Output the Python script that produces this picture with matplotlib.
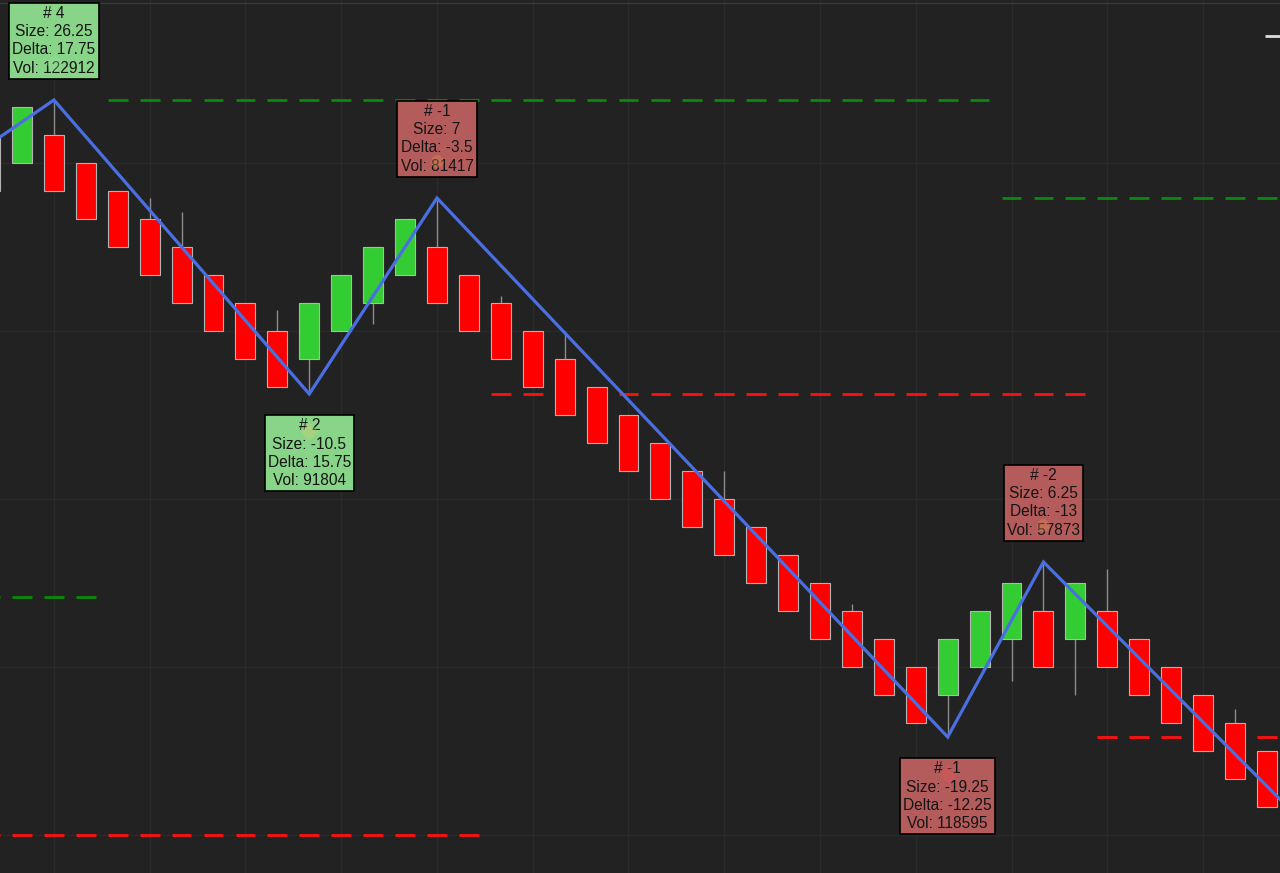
import matplotlib.pyplot as plt
import matplotlib.transforms as mtransforms
import numpy as np

# renko bars: open / close / high / low (bar index -1 .. 39)
bar_idx = list(range(-1, 40))
opens = [4527, 4528, 4529, 4528, 4527, 4526, 4525, 4524, 4523, 4522, 4521,
         4522, 4523, 4524, 4525, 4524, 4523, 4522, 4521, 4520, 4519,
         4518, 4517, 4516, 4515, 4514, 4513, 4512, 4511, 4510, 4509,
         4510, 4511, 4512, 4511, 4512, 4511, 4510, 4509, 4508, 4507]
closes = [4529, 4530, 4527, 4526, 4525, 4524, 4523, 4522, 4521, 4520, 4523,
          4524, 4525, 4526, 4523, 4522, 4521, 4520, 4519, 4518, 4517,
          4516, 4515, 4514, 4513, 4512, 4511, 4510, 4509, 4508, 4511,
          4512, 4513, 4510, 4513, 4510, 4509, 4508, 4507, 4506, 4505]
highs = [4529, 4530, 4530.25, 4528, 4527, 4526.75, 4526.25, 4524, 4523, 4522.75, 4523,
         4524, 4525, 4526, 4526.75, 4524, 4523.25, 4522, 4522, 4520, 4519,
         4518, 4517, 4517, 4515, 4514, 4513, 4512.25, 4511, 4510, 4511,
         4512, 4513, 4513.75, 4513, 4513.5, 4511, 4510, 4509, 4508.5, 4507]
lows = [4527, 4528, 4527, 4526, 4525, 4524, 4523, 4522, 4521, 4520, 4519.75,
        4522, 4522.25, 4524, 4523, 4522, 4521, 4520, 4519, 4518, 4517,
        4516, 4515, 4514, 4513, 4512, 4511, 4510, 4509, 4508, 4507.5,
        4510, 4509.5, 4510, 4509, 4510, 4509, 4508, 4507, 4506, 4505]

# zigzag pivots
zz_idx = [-2, 1, 9, 13, 29, 32, 40]
zz_price = [4527.9, 4530.25, 4519.75, 4526.75, 4507.5, 4513.75, 4504.6]

# swing labels
lbl_idx = [1, 9, 13, 29, 32]
lbl_num = ["4", "2", "-1", "-1", "-2"]
lbl_size = ["26.25", "-10.5", "7", "-19.25", "6.25"]
lbl_delta = ["17.75", "15.75", "-3.5", "-12.25", "-13"]
lbl_vol = ["122912", "91804", "81417", "118595", "57873"]

# swing levels (price, first bar, last bar, colour)
lvl_price = [4530.25, 4526.75, 4519.75, 4512.5, 4507.5, 4504.0]
lvl_start = [3, 31, 15, -1, 34, -1]
lvl_end = [30, 40, 33, 2, 40, 14]
lvl_color = ["#0a8a0a", "#0a8a0a", "#ff1010", "#0a8a0a", "#ff1010", "#ff1010"]

bg = "#222222"
fig = plt.figure(figsize=(12.8, 8.73), dpi=100, facecolor=bg)
ax = fig.add_axes([0, 0, 1, 1])
ax.set_facecolor(bg)
ax.set_xlim(-22 / 31.92, (1280 - 22) / 31.92)
ax.set_ylim(4530 - 766 / 28, 4530 + 107 / 28)
for s in ax.spines.values():
    s.set_visible(False)
ax.set_xticks([])
ax.set_yticks([])

# grid
for p in np.arange(4504, 4534, 6):
    ax.axhline(p, color="#2b2b2b", lw=1, zorder=0)
for i in range(1, 41, 3):
    ax.axvline(i, color="#2b2b2b", lw=1, zorder=0)
ax.axhline(4530 + 104 / 28, color="#383838", lw=1, zorder=0)

# dashed levels, one dash per bar
for p, a, b, c in zip(lvl_price, lvl_start, lvl_end, lvl_color):
    xs = np.arange(a, b + 1)
    ax.hlines([p] * len(xs), xs - 0.31, xs + 0.31, color=c, lw=2, zorder=1)

# candles
ax.vlines(bar_idx, lows, highs, color="#8c8c8c", lw=1, zorder=2)
bottoms = [min(o, c) for o, c in zip(opens, closes)]
heights = [abs(c - o) for o, c in zip(opens, closes)]
colors = ["#33cc33" if c > o else "#ff0000" for o, c in zip(opens, closes)]
ax.bar(bar_idx, heights, bottom=bottoms, width=0.625, color=colors,
       edgecolor="#b4b4b4", linewidth=0.8, zorder=3)

# zigzag
ax.plot(zz_idx, zz_price, color="#4a6fe3", lw=2.3, zorder=4, solid_joinstyle="miter")

# current price tick
ax.hlines(4530 + 71 / 28, 38.95, 39.6, color="#dddddd", lw=2, zorder=4)

# labels
for i, n, sz, d, v in zip(lbl_idx, lbl_num, lbl_size, lbl_delta, lbl_vol):
    p = zz_price[zz_idx.index(i)]
    up = float(sz) > 0
    fc = "#b45c5c" if n.startswith("-") else "#88d488"
    txt = f"# {n}\nSize: {sz}\nDelta: {d}\nVol: {v}"
    ax.annotate(txt, xy=(i, p), xytext=(0, 17.5 if up else -17.5), textcoords="offset points",
                ha="center", va="bottom" if up else "top", multialignment="center",
                fontsize=11.2, family=["Liberation Sans", "DejaVu Sans"], color="#141414",
                linespacing=1.27, zorder=5,
                bbox=dict(boxstyle="square,pad=0.2", fc=fc, ec="black", lw=1.2))

# faint markers behind the label text
mk_style = [("D", "#9be89b"), ("D", "#e0d070"), ("o", "#e09050"), ("D", "#f05555"), ("o", "#e09050")]
for i, sz, (m, c) in zip(lbl_idx, lbl_size, mk_style):
    p = zz_price[zz_idx.index(i)]
    dy = 37 if float(sz) > 0 else -37
    off = mtransforms.offset_copy(ax.transData, fig=fig, x=0, y=dy, units="dots")
    ax.plot([i], [p], marker=m, ms=9, color=c, alpha=0.35, mec="none", transform=off, zorder=6)

fig.savefig("out.png", dpi=100, facecolor=bg)
